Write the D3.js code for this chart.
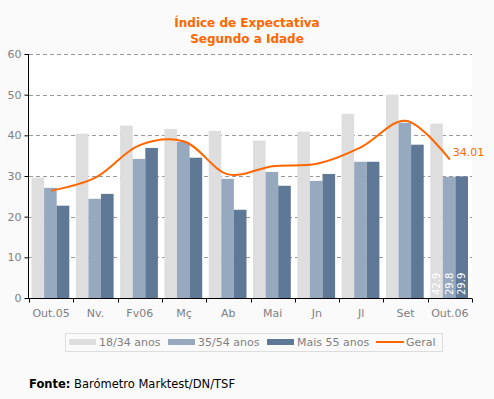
<!DOCTYPE html>
<html><head><meta charset="utf-8">
<script src="https://cdn.jsdelivr.net/npm/d3@7"></script>
<style>
html,body{margin:0;padding:0;background:#FAFAFA;}
svg{display:block;}
text{font-family:"DejaVu Sans",Verdana,sans-serif;}
</style></head>
<body>
<script>
const months = ["Out.05","Nv.","Fv06","Mç","Ab","Mai","Jn","Jl","Set","Out.06"];
const seriesNames = ["18/34 anos","35/54 anos","Mais 55 anos"];
const young = [29.6,40.4,42.4,41.6,41.1,38.7,40.9,45.3,50.0,42.9];
const middle = [27.1,24.4,34.2,38.4,29.3,31.0,28.8,33.5,43.1,29.8];
const older = [22.7,25.6,36.9,34.5,21.7,27.6,30.5,33.5,37.7,29.9];
const geral = [26.4,29.6,37.6,38.5,30.4,32.4,33.0,37.1,43.6,34.01];
const yTicks = [0,10,20,30,40,50,60];
const colors = ["#DEDEDE","#97A9BE","#5E7896"];
const lineColor = "#FF6600";

const W=494,H=399;
const svg=d3.select("body").append("svg").attr("width",W).attr("height",H);
svg.append("rect").attr("width",W).attr("height",H).attr("fill","#FAFAFA");

const L=29,R=472,T=54,B=298;
svg.append("rect").attr("x",L).attr("y",T).attr("width",R-L).attr("height",B-T).attr("fill","#FFFFFF");

const x0=d3.scaleBand().domain(months).range([L,R]).padding(0);
const x1=d3.scaleBand().domain(seriesNames).range([2.5,x0.bandwidth()-4]).padding(0);
const y=d3.scaleLinear().domain([0,60]).range([B,T]);

// title
const title=svg.append("text").attr("x",247).attr("text-anchor","middle")
  .attr("fill",lineColor).attr("font-weight","bold").attr("font-size",12);
title.append("tspan").attr("x",247).attr("y",27).text("Índice de Expectativa");
title.append("tspan").attr("x",247).attr("y",43).text("Segundo a Idade");

// grid
svg.append("g").selectAll("line").data(yTicks.filter(d=>d>0)).join("line")
  .attr("x1",L).attr("x2",R).attr("y1",d=>Math.round(y(d))+0.5).attr("y2",d=>Math.round(y(d))+0.5)
  .attr("stroke","#999").attr("stroke-dasharray","4,3");

// bars
const all=[young,middle,older];
const g=svg.append("g");
months.forEach((m,i)=>{
  seriesNames.forEach((s,j)=>{
    g.append("rect").attr("x",x0(m)+x1(s)).attr("width",x1.bandwidth())
      .attr("y",y(all[j][i])).attr("height",B-y(all[j][i])).attr("fill",colors[j]);
  });
});

// last-month value labels
const lastM=months[months.length-1];
seriesNames.forEach((s,j)=>{
  const cx=x0(lastM)+x1(s)+x1.bandwidth()/2;
  svg.append("text").attr("transform",`translate(${cx+3.5},${B-3}) rotate(-90)`)
    .attr("fill","#FFFFFF").attr("font-size",10).text(all[j][months.length-1].toFixed(1));
});

// line
const line=d3.line().x((d,i)=>x0(months[i])+x0.bandwidth()/2).y(d=>y(d)).curve(d3.curveCatmullRom.alpha(0.5));
svg.append("path").datum(geral).attr("d",line).attr("fill","none").attr("stroke",lineColor).attr("stroke-width",2);
svg.append("text").attr("x",x0(lastM)+x0.bandwidth()/2+3).attr("y",y(geral[geral.length-1])-4)
  .attr("fill",lineColor).attr("font-size",11).text(geral[geral.length-1].toFixed(2));

// axes
const yAxis=d3.axisLeft(y).tickValues(yTicks).tickSize(4).tickPadding(3);
const ya=svg.append("g").attr("transform",`translate(${L-0.5},0)`).call(yAxis);
ya.select(".domain").attr("stroke","#000").attr("d",`M0,${T}V${B}`);
ya.selectAll(".tick line").attr("stroke","#000");
ya.selectAll(".tick text").attr("fill","#808080").attr("font-size",11).attr("font-family","DejaVu Sans");

const xa=svg.append("g").attr("transform",`translate(0,${B+0.5})`);
xa.append("line").attr("x1",L-3).attr("x2",R).attr("stroke","#000");
const bounds=months.map(m=>x0(m)).concat([R]);
xa.selectAll("line.tk").data(bounds).join("line").attr("class","tk")
  .attr("x1",d=>Math.round(d)+0.5).attr("x2",d=>Math.round(d)+0.5).attr("y1",0).attr("y2",4).attr("stroke","#000");
xa.selectAll("text").data(months).join("text")
  .attr("x",m=>x0(m)+x0.bandwidth()/2).attr("y",18).attr("text-anchor","middle")
  .attr("fill","#808080").attr("font-size",11).text(d=>d);

// legend
const lg=svg.append("g");
lg.append("rect").attr("x",65.5).attr("y",333.5).attr("width",377).attr("height",18).attr("fill","none").attr("stroke","#DDDDDD");
const legItems=[{n:seriesNames[0],c:colors[0],x:69},{n:seriesNames[1],c:colors[1],x:168},{n:seriesNames[2],c:colors[2],x:267},{n:"Geral",c:lineColor,x:376,line:true}];
legItems.forEach(it=>{
  if(it.line){
    lg.append("line").attr("x1",it.x).attr("x2",it.x+28).attr("y1",342).attr("y2",342).attr("stroke",it.c).attr("stroke-width",2);
  } else {
    lg.append("rect").attr("x",it.x).attr("y",339).attr("width",27).attr("height",6).attr("fill",it.c);
  }
  lg.append("text").attr("x",it.x+30).attr("y",346).attr("fill","#808080").attr("font-size",11).text(it.n);
});

// source
const src=svg.append("text").attr("x",29).attr("y",388).attr("fill","#000").attr("font-size",11.5);
src.append("tspan").attr("font-weight","bold").text("Fonte:");
src.append("tspan").text(" Barómetro Marktest/DN/TSF");
</script>
</body></html>
